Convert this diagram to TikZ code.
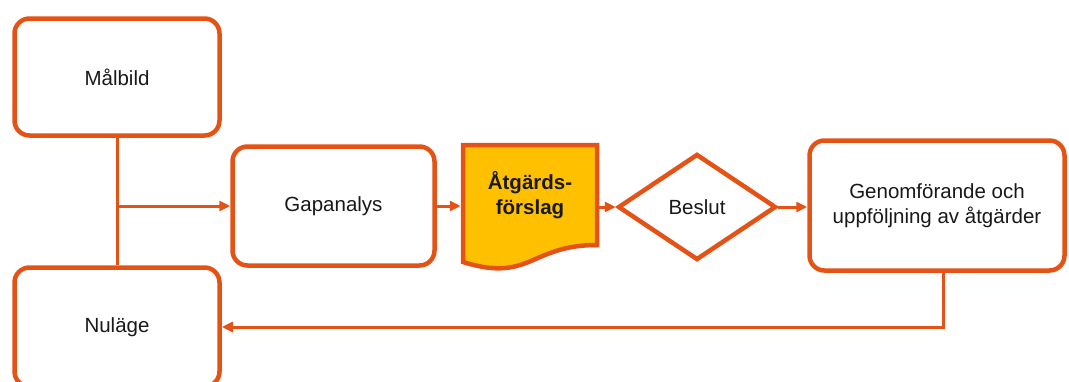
\documentclass[tikz,border=0pt]{standalone}
\usepackage{fontspec}
\setmainfont{Liberation Sans}
\usetikzlibrary{arrows.meta,shapes.geometric}
\definecolor{flowline}{RGB}{228,83,21}
\definecolor{flowgold}{RGB}{255,192,0}

\begin{document}
\begin{tikzpicture}[x=1pt, y=-1pt, font=\fontsize{20.5}{25}\selectfont, line width=4.5pt,
	box/.style={draw=flowline, rounded corners=15pt, fill=white, align=center, text=black!90},
	link/.style={draw=flowline, line width=3pt, -{Triangle[length=11pt,width=10pt]}}]
	\useasboundingbox (0,0) rectangle (1069,381);
	\node[box, minimum width=205, minimum height=117] (malbild) at (117,77) {Målbild};
	\node[box, minimum width=205, minimum height=119] (nulage) at (117,327) {Nuläge};
	\node[box, minimum width=202, minimum height=119] (gap) at (333.5,206) {Gapanalys};
	% document shape
	\draw[draw=flowline, fill=flowgold, line join=miter] (463,145) -- (597,145) -- (597,245)
	  .. controls (530,245) and (530,283) .. (463,262) -- cycle;
	\node[align=center, font=\fontsize{20.5}{25}\selectfont\bfseries, text=black!90, minimum width=134, minimum height=100, inner sep=0pt] (forslag) at (530,195) {Åtgärds-\\förslag};
	\node[box, diamond, rounded corners=0pt, line join=miter, minimum width=158, minimum height=106] (beslut) at (697,207) {Beslut};
	\node[box, minimum width=255, minimum height=130] (genom) at (937,205.5) {Genomförande och\\uppföljning av åtgärder};
	% connectors
	\draw[flowline, line width=3pt] (malbild.south) -- (nulage.north);
	\coordinate (split) at (malbild.south |- gap.west);
	\draw[link] (split) -- (gap.west);
	\draw[link] (gap.east) -- (gap.east -| forslag.west);
	\draw[link] (forslag.east |- beslut.west) -- (beslut.west);
	\draw[link] (beslut.east) -- (beslut.east -| genom.west);
	\draw[link] ([xshift=6pt]genom.south) |- (nulage.east);
\end{tikzpicture}
\end{document}
